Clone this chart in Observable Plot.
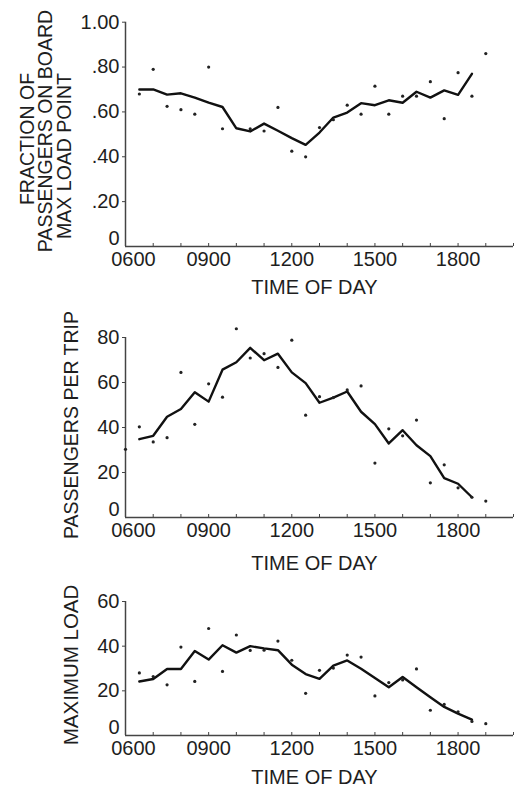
<!DOCTYPE html>
<html>
<head>
<meta charset="utf-8">
<script src="https://cdn.jsdelivr.net/npm/d3@7"></script>
<script src="https://cdn.jsdelivr.net/npm/@observablehq/plot@0.6"></script>
<style>
  html, body { margin: 0; padding: 0; background: #fff; }
  #chart svg { display: block; }
</style>
</head>
<body>
<div id="chart"></div>
<script>
// ---------- data ----------
const hourTicks = [6, 7, 8, 9, 10, 11, 12, 13, 14, 15, 16, 17, 18, 19, 20];
const labeledHours = [9, 12, 15, 18];
const firstLabeledHour = [6];
const xTitle = "TIME OF DAY";

// Panel 1: fraction of passengers on board at max load point
const loadFactorDotHours = [6.5, 7, 7.5, 8, 8.5, 9, 9.5, 10.5, 11, 11.5, 12, 12.5, 13, 13.5, 14, 14.5, 15, 15.5, 16, 16.5, 17, 17.5, 18, 18.5, 19];
const loadFactorDots = [0.68, 0.79, 0.625, 0.61, 0.59, 0.80, 0.525, 0.525, 0.515, 0.62, 0.425, 0.40, 0.53, 0.565, 0.63, 0.59, 0.715, 0.59, 0.67, 0.67, 0.735, 0.57, 0.775, 0.67, 0.86];
const loadFactorLineHours = [6.5, 7, 7.5, 8, 8.5, 9, 9.5, 10, 10.5, 11, 11.5, 12, 12.5, 13, 13.5, 14, 14.5, 15, 15.5, 16, 16.5, 17, 17.5, 18, 18.5];
const loadFactorLine = [0.70, 0.70, 0.677, 0.683, 0.664, 0.641, 0.622, 0.527, 0.513, 0.548, 0.516, 0.483, 0.453, 0.508, 0.575, 0.597, 0.639, 0.63, 0.652, 0.641, 0.69, 0.664, 0.696, 0.676, 0.77];
const loadFactorTicks = [0.2, 0.4, 0.6, 0.8, 1.0];
const loadFactorTitle = ["FRACTION OF", "PASSENGERS ON BOARD", "MAX LOAD POINT"];

// Panel 2: passengers per trip
const perTripDotHours = [6, 6.5, 7, 7.5, 8, 8.5, 9, 9.5, 10, 10.5, 11, 11.5, 12, 12.5, 13, 13.5, 14, 14.5, 15, 15.5, 16, 16.5, 17, 17.5, 18, 18.5, 19];
const perTripDots = [30.3, 40.3, 33.6, 35.5, 64.5, 41.4, 59.4, 53.5, 83.9, 70.9, 72.8, 66.7, 78.8, 45.5, 53.7, 53.3, 56.7, 58.5, 24.2, 39.4, 36.3, 43.3, 15.4, 23.4, 13.2, 9.0, 7.3];
const perTripLineHours = [6.5, 7, 7.5, 8, 8.5, 9, 9.5, 10, 10.5, 11, 11.5, 12, 12.5, 13, 13.5, 14, 14.5, 15, 15.5, 16, 16.5, 17, 17.5, 18, 18.5];
const perTripLine = [34.8, 36.3, 44.8, 48.2, 55.7, 51.5, 65.7, 69.0, 75.4, 69.9, 72.8, 64.5, 59.7, 51.0, 53.3, 56.0, 47.0, 41.5, 32.9, 38.8, 32.1, 27.3, 17.5, 15.0, 9.0];
const perTripTicks = [20, 40, 60, 80];
const perTripTitle = ["PASSENGERS PER TRIP"];

// Panel 3: maximum load
const maxLoadDotHours = [6.5, 7, 7.5, 8, 8.5, 9, 9.5, 10, 10.5, 11, 11.5, 12, 12.5, 13, 13.5, 14, 14.5, 15, 15.5, 16, 16.5, 17, 17.5, 18, 18.5, 19];
const maxLoadDots = [28.0, 26.4, 22.7, 39.6, 24.2, 47.9, 28.7, 45.0, 38.1, 38.2, 42.3, 33.7, 18.9, 29.2, 30.2, 36.0, 35.1, 17.7, 23.7, 24.9, 29.8, 11.3, 13.9, 10.6, 6.3, 5.3];
const maxLoadLineHours = [6.5, 7, 7.5, 8, 8.5, 9, 9.5, 10, 10.5, 11, 11.5, 12, 12.5, 13, 13.5, 14, 14.5, 15, 15.5, 16, 16.5, 17, 17.5, 18, 18.5];
const maxLoadLine = [24.2, 25.3, 29.8, 29.8, 37.8, 34.0, 40.4, 37.1, 40.0, 39.0, 38.2, 31.7, 27.5, 25.4, 31.3, 33.6, 29.9, 25.7, 21.6, 26.2, 21.6, 17.1, 12.8, 9.8, 7.1];
const maxLoadTicks = [20, 40, 60];
const maxLoadTitle = ["MAXIMUM LOAD"];

// ---------- drawing ----------
const FONT = "'Liberation Sans', Arial, Helvetica, sans-serif";
const INK = "#1e1e1e";
const AXIS = "#444";
const hourFmt = h => String(h * 100).padStart(4, "0");

function panel(cfg) {
  const dots = cfg.dotH.map((h, i) => ({h, v: cfg.dotV[i]}));
  const line = cfg.lineH.map((h, i) => ({h, v: cfg.lineV[i]}));
  const yMax = cfg.yDomain[1];
  const plot = Plot.plot({
    width: 518,
    height: cfg.height,
    marginLeft: 125,
    marginRight: 5,
    marginTop: cfg.marginTop,
    marginBottom: cfg.marginBottom,
    style: {fontFamily: FONT, fontSize: "20px", color: INK, background: "#fff", overflow: "visible"},
    x: {domain: [6, 20]},
    y: {domain: cfg.yDomain},
    marks: [
      // axis lines
      Plot.ruleY([0], {stroke: AXIS, strokeWidth: 1.5}),
      Plot.ruleX([6], {y1: 0, y2: yMax, stroke: AXIS, strokeWidth: 1.5}),
      // hourly ticks pointing up into the frame
      Plot.axisX(hourTicks, {anchor: "bottom", tickSize: 3, dy: -3, tickFormat: () => "", stroke: AXIS, label: null}),
      // x tick labels
      Plot.axisX(labeledHours, {anchor: "bottom", tickSize: 0, tickPadding: 5, tickFormat: hourFmt, fontSize: 20, fill: INK, label: null}),
      Plot.axisX(firstLabeledHour, {anchor: "bottom", tickSize: 0, tickPadding: 5, dx: 8, tickFormat: hourFmt, fontSize: 20, fill: INK, label: null}),
      // y ticks and labels
      Plot.axisY(cfg.yTicks, {anchor: "left", tickSize: 3, tickPadding: 3, tickFormat: cfg.yFmt, fontSize: 20, fill: INK, stroke: AXIS, label: null}),
      Plot.axisY([0], {anchor: "left", tickSize: 0, tickPadding: 6, dy: -8, tickFormat: () => "0", fontSize: 20, fill: INK, label: null}),
      // data
      Plot.line(line, {x: "h", y: "v", stroke: "#111", strokeWidth: 2.4, strokeLinejoin: "round", strokeLinecap: "round"}),
      Plot.dot(dots, {x: "h", y: "v", r: 1.6, fill: "#222", stroke: "none"}),
      // x title
      Plot.text([xTitle], {text: d => d, frameAnchor: "bottom", dy: cfg.xTitleDy, dx: -5, fontSize: 20, fill: INK, lineAnchor: "middle"})
    ]
  });
  // rotated y title
  const svg = d3.select(plot);
  cfg.yTitle.forEach((t, i) => {
    const p = cfg.yTitlePos[i];
    svg.append("text")
      .attr("transform", `translate(${p.x},${p.cy}) rotate(-90)`)
      .attr("text-anchor", "middle")
      .attr("font-family", FONT)
      .attr("font-size", cfg.yTitleSize)
      .attr("fill", INK)
      .text(t);
  });
  return plot;
}

const root = document.getElementById("chart");

root.appendChild(panel({
  height: 300, marginTop: 21.7, marginBottom: 54,
  yDomain: [0, 1], yTicks: loadFactorTicks,
  yFmt: v => v === 1 ? "1.00" : d3.format(".2f")(v).slice(1),
  dotH: loadFactorDotHours, dotV: loadFactorDots,
  lineH: loadFactorLineHours, lineV: loadFactorLine,
  xTitleDy: 41,
  yTitle: loadFactorTitle, yTitleSize: 19.5,
  yTitlePos: [{x: 33.5, cy: 139}, {x: 51.5, cy: 131}, {x: 71, cy: 156}]
}));

root.appendChild(panel({
  height: 280, marginTop: 37, marginBottom: 63,
  yDomain: [0, 80], yTicks: perTripTicks,
  yFmt: v => String(v),
  dotH: perTripDotHours, dotV: perTripDots,
  lineH: perTripLineHours, lineV: perTripLine,
  xTitleDy: 46,
  yTitle: perTripTitle, yTitleSize: 19.5,
  yTitlePos: [{x: 77.5, cy: 125}]
}));

root.appendChild(panel({
  height: 207, marginTop: 21, marginBottom: 52,
  yDomain: [0, 60], yTicks: maxLoadTicks,
  yFmt: v => String(v),
  dotH: maxLoadDotHours, dotV: maxLoadDots,
  lineH: maxLoadLineHours, lineV: maxLoadLine,
  xTitleDy: 41.7,
  yTitle: maxLoadTitle, yTitleSize: 20.5,
  yTitlePos: [{x: 77.5, cy: 85}]
}));
</script>
</body>
</html>
